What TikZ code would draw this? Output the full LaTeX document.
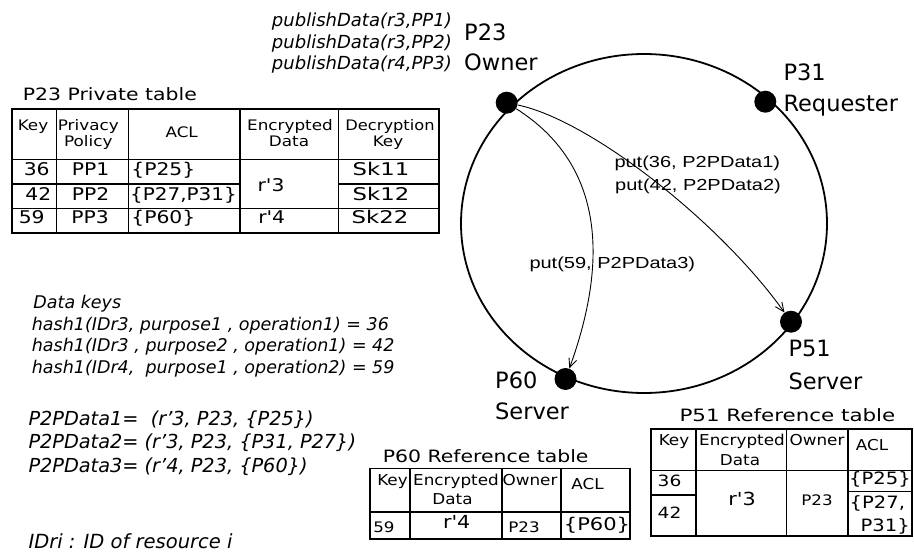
\documentclass[tikz,border=0pt]{standalone}
\usepackage{fontspec}
\setmainfont{DejaVu Sans}
\newfontfamily\putfont{Liberation Sans}
\usepackage{graphicx}
\usetikzlibrary{arrows.meta}

% horizontal stretch of a piece of text, and a font size in pt
\newcommand\hsc[2]{\scalebox{#1}[1]{#2}}
\newcommand\fsz[1]{\fontsize{#1}{#1}\selectfont}

\tikzset{
  txt/.style={inner sep=0pt, anchor=base west},
  rtxt/.style={inner sep=0pt, anchor=base east},
  ctxt/.style={inner sep=0pt, anchor=base},
  peer/.style={circle, fill=black, inner sep=0pt, minimum size=22pt},
  peerlabel/.style={txt, font=\fsz{22.5}},
  ring/.style={line width=1.8pt},
  putarrow/.style={line width=0.9pt, -{Straight Barb[length=9pt,width=8pt]}},
  putlabel/.style={txt, font=\putfont\fsz{16}},
  note/.style={txt, font=\itshape\fsz{17.5}},
  publish/.style={rtxt, font=\itshape\fsz{18}},
  p2p/.style={txt, font=\itshape\fsz{19.3}},
  tframe/.style={line width=2pt},
  tgrid/.style={line width=1.4pt},
  ttitle/.style={txt, font=\fsz{17}},
  thead/.style={ctxt, font=\fsz{14.5}},
  rhead/.style={ctxt, font=\fsz{15}},
  tcell/.style={ctxt, font=\fsz{17.5}},
  tsmall/.style={ctxt, font=\fsz{14.5}},
}

\begin{document}
\begin{tikzpicture}[x=1pt,y=-1pt]
\useasboundingbox (0,0) rectangle (914,554);

% ---- the overlay ring and its peers ----
\draw[ring] (644,223.5) ellipse [x radius=183, y radius=169.5];

\node[peer] (p23) at (506.7,102.7) {};
\node[peer] (p31) at (765.3,101.7) {};
\node[peer] (p51) at (791,321.7) {};
\node[peer] (p60) at (565.5,379) {};

\node[peerlabel] (p23name) at (464,40.5) {P23};
\node[peerlabel] (p23role) at (464,70.7) {Owner};
\node[peerlabel] (p31name) at (783.3,80) {P31};
\node[peerlabel] (p31role) at (783.3,111.7) {Requester};
\node[peerlabel] (p51name) at (788.3,356.7) {P51};
\node[peerlabel] (p51role) at (788.3,389) {Server};
\node[peerlabel] (p60name) at (495,388.3) {P60};
\node[peerlabel] (p60role) at (495,419) {Server};

% ---- put operations ----
\draw[putarrow] (p23) .. controls (590,120) and (720,222) .. (p51);
\draw[putarrow] (p23) .. controls (605,165) and (608,262) .. (p60);

\node[putlabel] (put36) at (614.3,167) {\hsc{1.25}{put(36, P2PData1)}};
\node[putlabel] (put42) at (615,190) {\hsc{1.25}{put(42, P2PData2)}};
\node[putlabel] (put59) at (529.3,268.3) {\hsc{1.25}{put(59, P2PData3)}};

% ---- publish calls of the owner ----
\node[publish] (pub1) at (452,27) {publishData(r3,PP1)};
\node[publish] (pub2) at (452,48) {publishData(r3,PP2)};
\node[publish] (pub3) at (452,69) {publishData(r4,PP3)};

% ---- data keys and P2P data ----
\node[note] (dk0) at (33.3,308.3) {Data keys};
\node[note] (dk1) at (31.7,330) {hash1(IDr3, purpose1 , operation1) = 36};
\node[note] (dk2) at (31.7,351.7) {hash1(IDr3 , purpose2 , operation1) = 42};
\node[note] (dk3) at (31.7,373.3) {hash1(IDr4,\ \ purpose1 , operation2) = 59};

\node[p2p] (pd1) at (28.3,425) {P2PData1=\ \ (r’3, P23, \{P25\})};
\node[p2p] (pd2) at (28.3,448.5) {P2PData2= (r’3, P23, \{P31, P27\})};
\node[p2p] (pd3) at (28.3,472) {P2PData3= (r’4, P23, \{P60\})};

\node[txt, font=\itshape\fsz{19.5}] (idri) at (28.3,548) {IDri : ID of resource i};

% ---- P23 private table ----
\node[ttitle] (t1title) at (22.7,100) {\hsc{1.2}{P23 Private table}};
\draw[tframe] (12,109.3) rectangle (439,232.7);
\draw[tgrid] (56.7,109.3) -- (56.7,232.7)
             (128.3,109.3) -- (128.3,232.7)
             (240,109.3) -- (240,232.7)
             (338.3,109.3) -- (338.3,232.7);
\draw[tgrid] (12,159.3) -- (439,159.3);
\draw[tgrid] (12,184) -- (240,184) (338.3,184) -- (439,184);
\draw[tgrid] (12,208.3) -- (439,208.3);

\node[thead] (t1hkey) at (33,130) {\hsc{1.16}{Key}};
\node[thead] (t1hpp1) at (88.3,130) {\hsc{1.16}{Privacy}};
\node[thead] (t1hpp2) at (88.3,146) {\hsc{1.16}{Policy}};
\node[thead] (t1hacl) at (181.7,137) {\hsc{1.16}{ACL}};
\node[thead] (t1hed1) at (290,130) {\hsc{1.16}{Encrypted}};
\node[thead] (t1hed2) at (289,146) {\hsc{1.16}{Data}};
\node[thead] (t1hdk1) at (390,130) {\hsc{1.12}{Decryption}};
\node[thead] (t1hdk2) at (388,146) {\hsc{1.16}{Key}};

\node[tcell] (t1k1) at (36.7,175) {\hsc{1.16}{36}};
\node[tcell] (t1k2) at (38.3,200) {\hsc{1.16}{42}};
\node[tcell] (t1k3) at (31.7,223.5) {\hsc{1.16}{59}};
\node[tcell] (t1p1) at (90.5,175) {\hsc{1.16}{PP1}};
\node[tcell] (t1p2) at (90.5,200) {\hsc{1.16}{PP2}};
\node[tcell] (t1p3) at (90,223.5) {\hsc{1.16}{PP3}};
\node[tcell, anchor=base west] (t1a1) at (131.2,175) {\hsc{1.16}{\{P25\}}};
\node[tcell, anchor=base west] (t1a2) at (130,200) {\hsc{1.14}{\{P27,P31\}}};
\node[tcell, anchor=base west] (t1a3) at (131.2,223.5) {\hsc{1.16}{\{P60\}}};
\node[tcell] (t1e1) at (271,191.7) {\hsc{1.16}{r\textquotesingle3}};
\node[tcell] (t1e3) at (271.7,223.5) {\hsc{1.16}{r\textquotesingle4}};
\node[tcell] (t1d1) at (381,175) {\hsc{1.3}{Sk11}};
\node[tcell] (t1d2) at (381,200) {\hsc{1.3}{Sk12}};
\node[tcell] (t1d3) at (380,223.5) {\hsc{1.3}{Sk22}};

% ---- P60 reference table ----
\node[ttitle] (t2title) at (382.7,462.3) {\hsc{1.2}{P60 Reference table}};
\draw[tgrid] (370,468.5) rectangle (630,539);
\draw[tgrid] (410,468.5) -- (410,539)
             (502,468.5) -- (502,539)
             (561,468.5) -- (561,539);
\draw[tgrid] (370,512) -- (630,512);

\node[rhead] (t2hkey) at (392.5,485) {\hsc{1.12}{Key}};
\node[rhead] (t2hed1) at (456,485) {\hsc{1.12}{Encrypted}};
\node[rhead] (t2hed2) at (452.5,504) {\hsc{1.12}{Data}};
\node[rhead] (t2how) at (530,485) {\hsc{1.12}{Owner}};
\node[rhead] (t2hacl) at (587.5,489) {\hsc{1.12}{ACL}};

\node[tsmall] (t2k) at (384,532) {\hsc{1.15}{59}};
\node[ctxt, font=\fsz{18}] (t2e) at (456.7,528.5) {\hsc{1.15}{r\textquotesingle4}};
\node[tsmall] (t2o) at (524,532) {\hsc{1.15}{P23}};
\node[ctxt, font=\fsz{17.5}] (t2a) at (597,530.5) {\hsc{1.2}{\{P60\}}};

% ---- P51 reference table ----
\node[ttitle] (t3title) at (679.3,421.7) {\hsc{1.26}{P51 Reference table}};
\draw[tframe] (650.7,429.3) rectangle (912,536);
\draw[tgrid] (696,429.3) -- (696,536)
             (786.7,429.3) -- (786.7,536)
             (848,429.3) -- (848,536);
\draw[tgrid] (650.7,470.5) -- (912,470.5);
\draw[tgrid] (650.7,495) -- (696,495);
\draw[tgrid] (848,491.7) -- (912,491.7);

\node[rhead] (t3hkey) at (674,445) {\hsc{1.12}{Key}};
\node[rhead] (t3hed1) at (742,445) {\hsc{1.12}{Encrypted}};
\node[rhead] (t3hed2) at (740,465) {\hsc{1.12}{Data}};
\node[rhead] (t3how) at (817,445) {\hsc{1.12}{Owner}};
\node[rhead] (t3hacl) at (872,450) {\hsc{1.12}{ACL}};

\node[ctxt, font=\fsz{15.5}] (t3k1) at (669.5,486.7) {\hsc{1.2}{36}};
\node[ctxt, font=\fsz{15.5}] (t3k2) at (669.5,518.3) {\hsc{1.2}{42}};
\node[ctxt, font=\fsz{18}] (t3e) at (742,505) {\hsc{1.15}{r\textquotesingle3}};
\node[tsmall] (t3o) at (817,505) {\hsc{1.15}{P23}};
\node[ctxt, font=\fsz{17}] (t3a1) at (880,484) {\hsc{1.15}{\{P25\}}};
\node[txt, font=\fsz{17}] (t3a2) at (849.5,508.5) {\hsc{1.15}{\{P27,}};
\node[rtxt, font=\fsz{17}] (t3a3) at (910,531) {\hsc{1.15}{P31\}}};
\end{tikzpicture}
\end{document}
